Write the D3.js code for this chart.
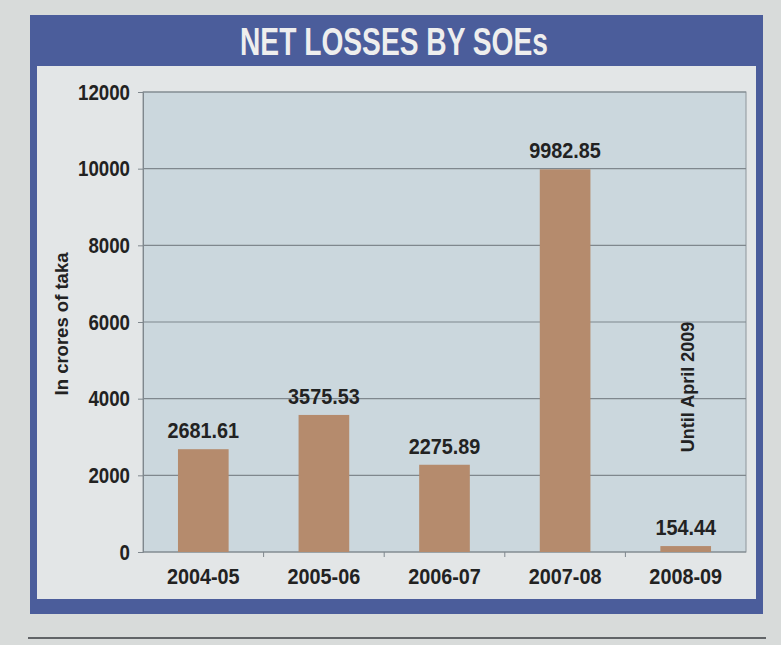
<!DOCTYPE html>
<html>
<head>
<meta charset="utf-8">
<script src="https://cdn.jsdelivr.net/npm/d3@7"></script>
<style>
    html, body { margin: 0; padding: 0; background: #d8dbda; }
    svg { display: block; }
    text { font-family: "Liberation Sans", Arial, sans-serif; font-weight: bold; }
</style>
</head>
<body>
<div id="content"></div>
<script>
// values (crores of taka)
const years = ["2004-05", "2005-06", "2006-07", "2007-08", "2008-09"];
const losses = [2681.61, 3575.53, 2275.89, 9982.85, 154.44];
const yTicks = [0, 2000, 4000, 6000, 8000, 10000, 12000];
const title = "NET LOSSES BY SOEs";
const yTitle = "In crores of taka";
const note = "Until April 2009";

const width = 781, height = 645;
const plot = { left: 143, right: 746, top: 92, bottom: 552 };

// no narrow font installed, so squeeze the glyphs of a selection
function condense(sel, k) {
    sel.each(function () {
        const w = this.getComputedTextLength();
        d3.select(this).attr("textLength", w * k).attr("lengthAdjust", "spacingAndGlyphs");
    });
}

const svg = d3.select("#content").append("svg")
    .attr("width", width)
    .attr("height", height);

// frame: blue box, title band, light panel
svg.append("rect").attr("x", 30).attr("y", 15).attr("width", 733).attr("height", 599).attr("fill", "#4b5d9b");
svg.append("rect").attr("x", 37).attr("y", 66).attr("width", 719).attr("height", 533).attr("fill", "#e3e6e7");
svg.append("line").attr("x1", 28).attr("x2", 766).attr("y1", 638).attr("y2", 638)
    .attr("stroke", "#3a3d40").attr("stroke-width", 1.5);

svg.append("text")
    .attr("x", 394).attr("y", 55)
    .attr("text-anchor", "middle")
    .attr("font-size", 38)
    .attr("fill", "#eeeeee")
    .attr("textLength", 308)
    .attr("lengthAdjust", "spacingAndGlyphs")
    .text(title);

const x = d3.scaleBand()
    .domain(years)
    .range([plot.left, plot.right])
    .paddingInner(0.58)
    .paddingOuter(0.29);

const y = d3.scaleLinear()
    .domain([0, 12000])
    .range([plot.bottom, plot.top]);

// plot background
svg.append("rect")
    .attr("x", plot.left).attr("y", plot.top)
    .attr("width", plot.right - plot.left).attr("height", plot.bottom - plot.top)
    .attr("fill", "#cbd7dd")
    .attr("stroke", "#8e959b");

// gridlines
svg.append("g")
    .selectAll("line")
    .data(yTicks)
    .join("line")
    .attr("x1", plot.left).attr("x2", plot.right)
    .attr("y1", d => y(d)).attr("y2", d => y(d))
    .attr("stroke", "#7f878d")
    .attr("stroke-width", 1.2);

// y axis
const yAxis = svg.append("g")
    .attr("transform", `translate(${plot.left},0)`)
    .call(d3.axisLeft(y).tickValues(yTicks).tickFormat(d3.format("d")).tickSize(5).tickPadding(8));
yAxis.select(".domain").attr("stroke", "#7f878d");
yAxis.selectAll(".tick line").attr("stroke", "#7f878d");
yAxis.selectAll("text")
    .attr("font-size", 22)
    .attr("fill", "#222")
    .style("font-family", "'Liberation Sans', Arial, sans-serif")
    .call(condense, 0.85);

// x axis
const xAxis = svg.append("g")
    .attr("transform", `translate(0,${plot.bottom})`)
    .call(d3.axisBottom(x).tickSize(0).tickPadding(16));
xAxis.select(".domain").remove();
xAxis.selectAll("text")
    .attr("font-size", 22)
    .attr("fill", "#222")
    .style("font-family", "'Liberation Sans', Arial, sans-serif")
    .call(condense, 0.9);

// small ticks between categories
svg.append("g")
    .selectAll("line")
    .data(years.slice(1))
    .join("line")
    .attr("x1", d => x(d) - x.step() * x.paddingInner() / 2)
    .attr("x2", d => x(d) - x.step() * x.paddingInner() / 2)
    .attr("y1", plot.bottom).attr("y2", plot.bottom + 5)
    .attr("stroke", "#7f878d");

// bars
svg.append("g")
    .selectAll("rect")
    .data(losses)
    .join("rect")
    .attr("x", (d, i) => x(years[i]))
    .attr("y", d => y(d))
    .attr("width", x.bandwidth())
    .attr("height", d => y(0) - y(d))
    .attr("fill", "#b58b6d");

// value labels
svg.append("g")
    .selectAll("text")
    .data(losses)
    .join("text")
    .attr("x", (d, i) => x(years[i]) + x.bandwidth() / 2)
    .attr("y", d => y(d) - 11)
    .attr("text-anchor", "middle")
    .attr("font-size", 22)
    .attr("fill", "#222")
    .text(d => d3.format(".2f")(d))
    .call(condense, 0.9);

// axis title
svg.append("text")
    .attr("transform", "translate(68,324) rotate(-90)")
    .attr("text-anchor", "middle")
    .attr("font-size", 18.5)
    .attr("fill", "#222")
    .text(yTitle);

// note on last year
svg.append("text")
    .attr("transform", `translate(${x(years[4]) + x.bandwidth() / 2 + 8},387) rotate(-90)`)
    .attr("text-anchor", "middle")
    .attr("font-size", 18)
    .attr("fill", "#222")
    .text(note);
</script>
</body>
</html>
